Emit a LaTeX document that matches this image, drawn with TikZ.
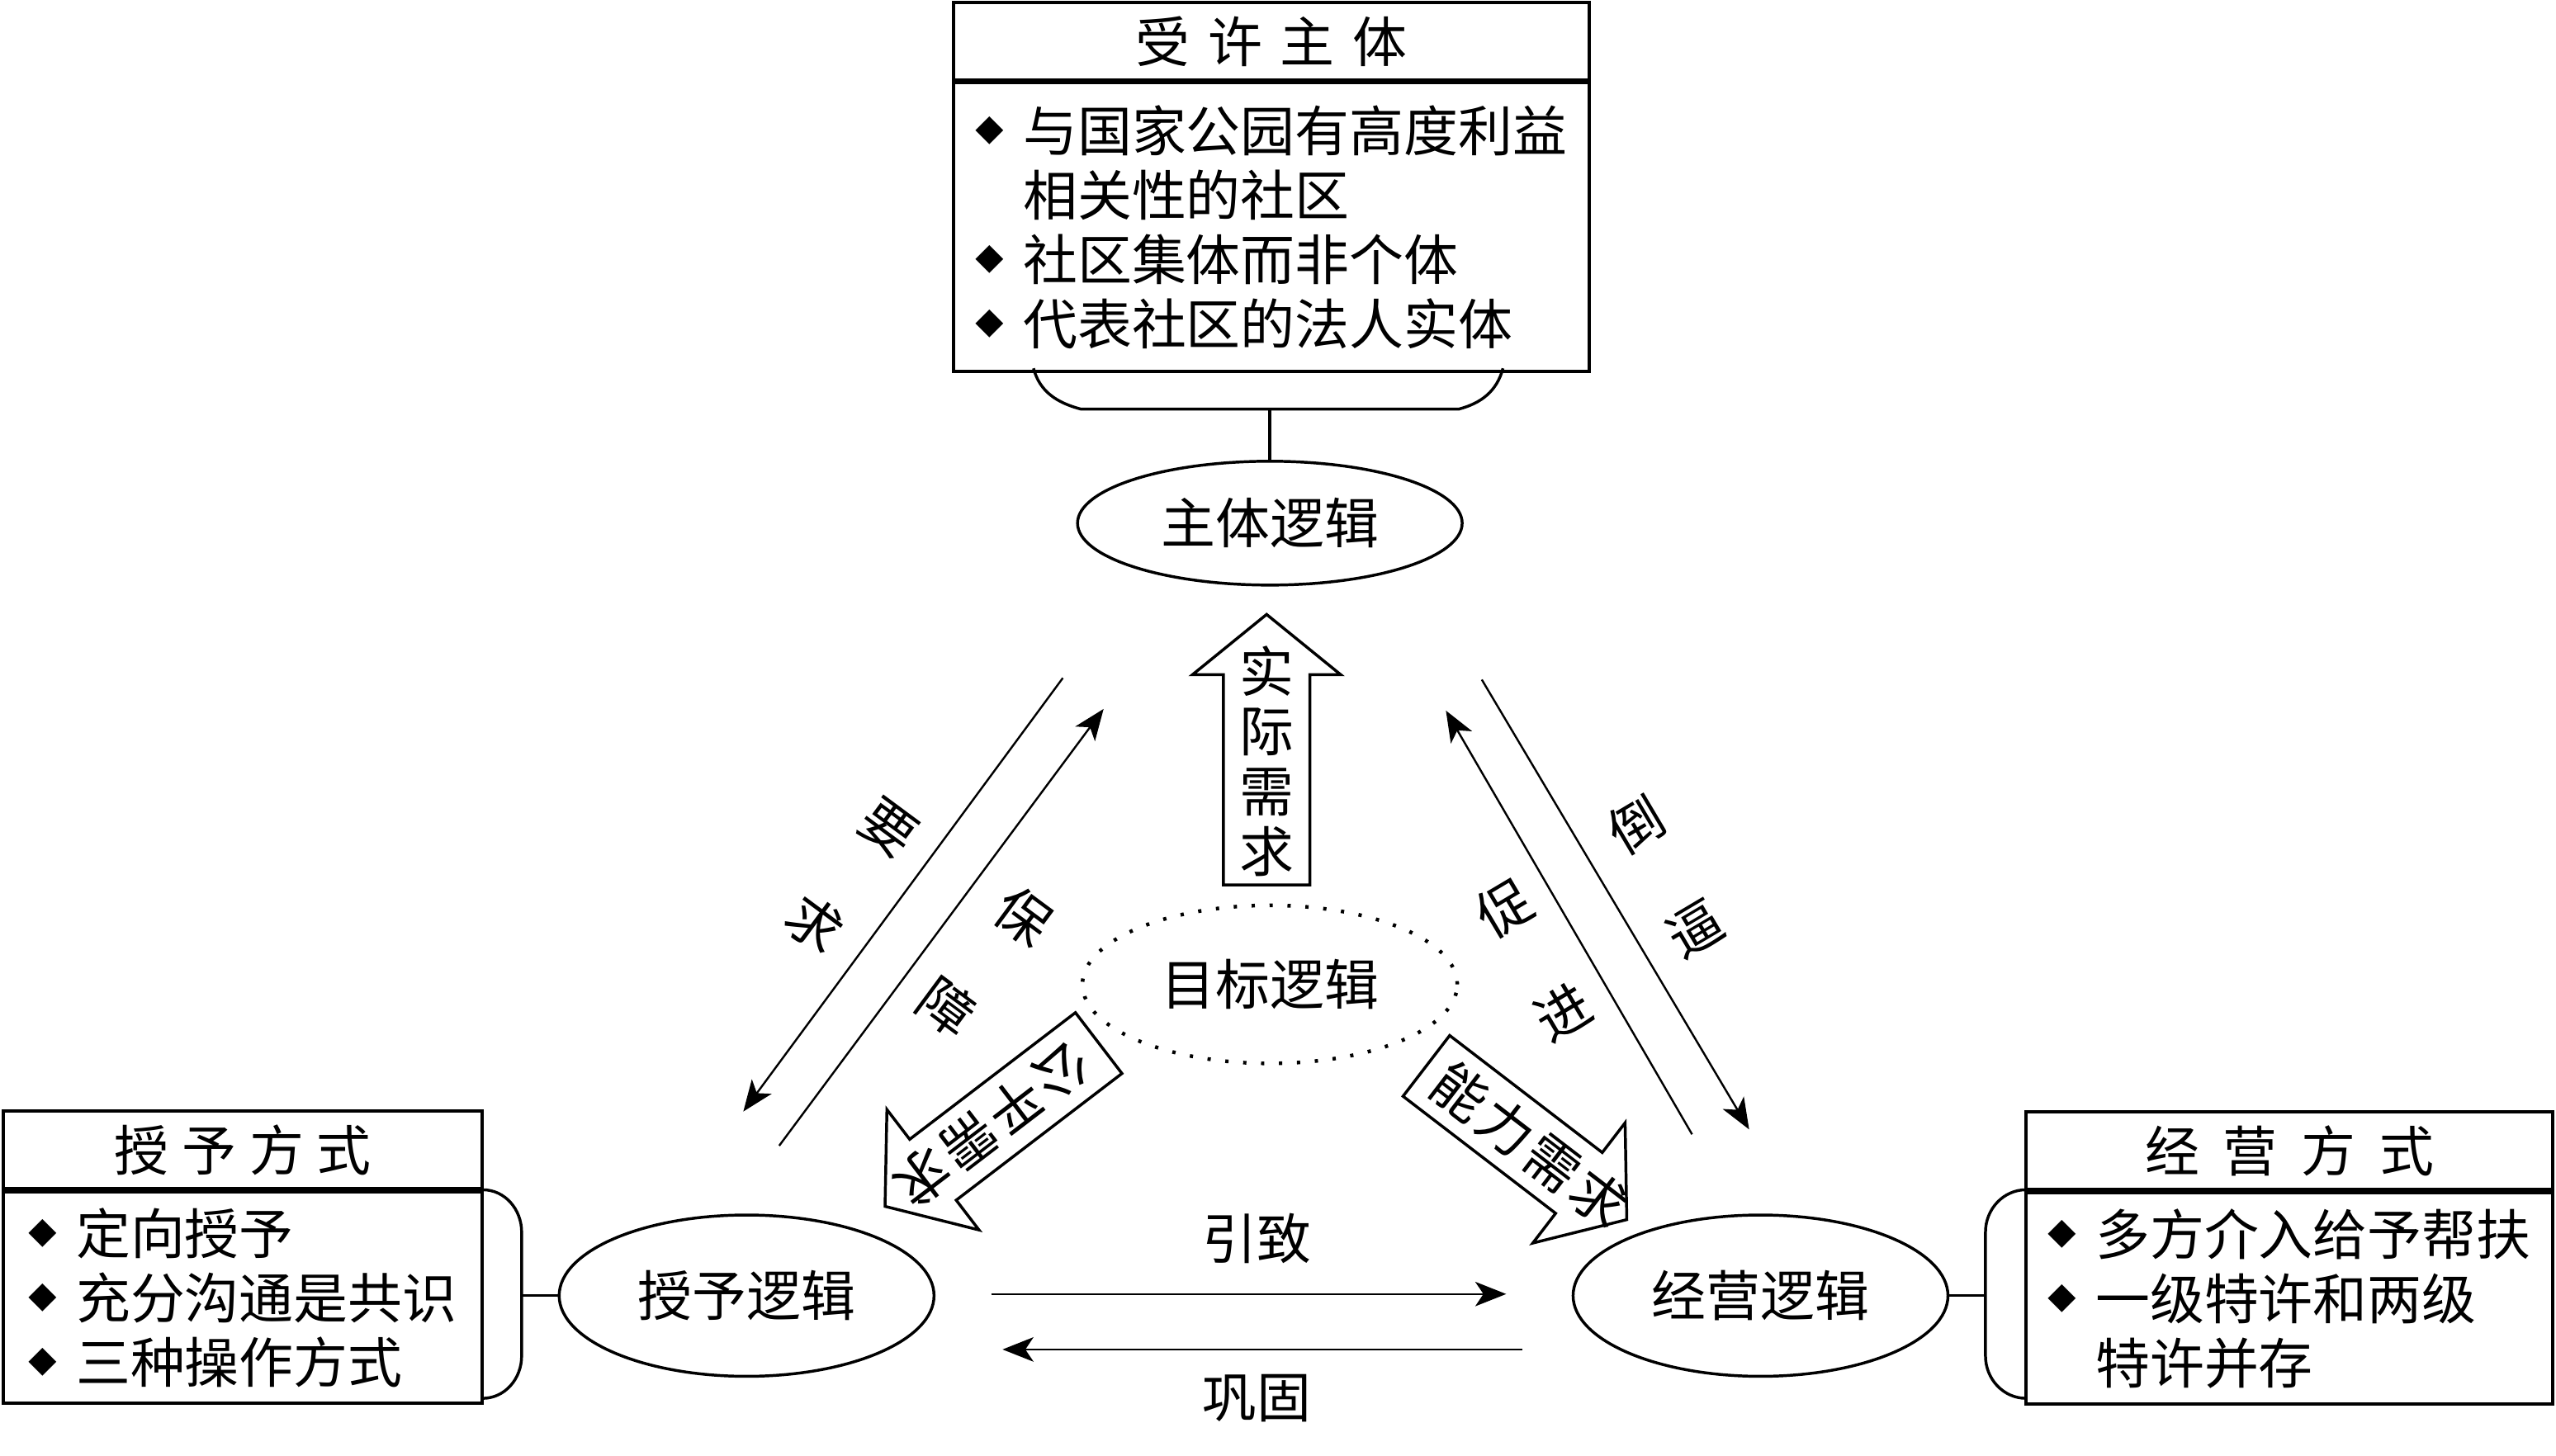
\documentclass[tikz,border=0pt]{standalone}
\usepackage{fontspec}
\setmainfont{Noto Sans CJK SC}
\usetikzlibrary{arrows.meta}
\usetikzlibrary{shapes.geometric}
\usetikzlibrary{positioning}
\newcommand{\dia}{\makebox[0.58cm][l]{\raisebox{3.4pt}{\fontsize{10}{10}\selectfont ◆}}}
\newcommand{\nodia}{\hspace*{0.58cm}}

\begin{document}
\begin{tikzpicture}[x=0.02cm,y=-0.02cm,font=\fontsize{19}{22.5}\selectfont,line width=1pt,
	logic/.style={ellipse,draw,minimum width=4.6cm,minimum height=1.98cm,inner sep=0pt},
	head/.style={draw,line width=1.1pt,minimum height=0.95cm,inner sep=0pt},
	body/.style={draw,line width=1.1pt,align=left,minimum height=2.6cm,inner sep=0pt},
	link/.style={line width=0.7pt,-{Stealth[length=0.38cm,width=0.3cm,inset=0.1cm]}}]
		\useasboundingbox (0,0) rectangle (1568,893);
		\node[head,minimum width=7.8cm] (lichd) at (780,25.25) {受\hspace{0.22cm}许\hspace{0.22cm}主\hspace{0.22cm}体};
		\node[body,minimum width=7.8cm,minimum height=3.54cm,below=0pt of lichd] (licbd) {\dia 与国家公园有高度利益\\ \nodia 相关性的社区\\ \dia 社区集体而非个体\\ \dia 代表社区的法人实体};
		\node[head,minimum width=5.88cm] (granthd) at (149,705.5) {授\hspace{0.16cm}予\hspace{0.16cm}方\hspace{0.16cm}式};
		\node[body,minimum width=5.88cm,below=0pt of granthd] (grantbd) {\dia 定向授予\\ \dia 充分沟通是共识\\ \dia 三种操作方式};
		\node[head,minimum width=6.46cm] (operhd) at (1404.5,706) {经\hspace{0.29cm}营\hspace{0.29cm}方\hspace{0.29cm}式};
		\node[body,minimum width=6.46cm,below=0pt of operhd] (operbd) {\dia 多方介入给予帮扶\\ \dia 一级特许和两级\\ \nodia 特许并存};
		\draw (634,226) to[out=-75,in=165] (663,251) -- (895,251) to[out=15,in=-105] (922,226);
		\draw (296,730) to[out=0,in=90] (320,756) -- (320,832) to[out=-90,in=0] (296,858);
		\draw (1243,730) to[out=180,in=90] (1218,756) -- (1218,832) to[out=-90,in=180] (1243,858);
		\node[logic,minimum width=4.72cm,minimum height=1.52cm] (subj) at (779,321) {主体逻辑};
		\node[logic] (grant) at (458,795) {授予逻辑};
		\node[logic] (oper) at (1080,795) {经营逻辑};
		\node[ellipse,draw,line width=0.045cm,dash pattern=on 0.04cm off 0.18cm,minimum width=4.6cm,minimum height=1.94cm,inner sep=0pt] (goal) at (779,604) {目标逻辑};
		\coordinate (tbk) at (779,251);
		\coordinate (lbk) at (320,795);
		\coordinate (rbk) at (1218,795);
		\draw (tbk) -- (subj);
		\draw (lbk) -- (grant);
		\draw (rbk) -- (oper);
		\begin{scope}[shift={(777,543)},rotate=90]
			\draw (0,-26.5) -- (129,-26.5) -- (129,-45.5) -- (166,0) -- (129,45.5) -- (129,26.5) -- (0,26.5) -- cycle;
			\node[align=center,font=\fontsize{19}{21}\selectfont] (real) at (76,0) {实\\际\\需\\求};
		\end{scope}
		\begin{scope}[shift={(674,640)},rotate=217.4]
			\draw (0,-23.5) -- (128,-23.5) -- (128,-46.5) -- (165,0) -- (128,46.5) -- (128,23.5) -- (0,23.5) -- cycle;
			\node[rotate=217.4] (fair) at (82,0) {公\hspace{0.05cm}平\hspace{0.05cm}需\hspace{0.05cm}求};
		\end{scope}
		\begin{scope}[shift={(875,654)},rotate=-37.5]
			\draw (0,-23.5) -- (118,-23.5) -- (118,-46.5) -- (155,0) -- (118,46.5) -- (118,23.5) -- (0,23.5) -- cycle;
			\node[rotate=-37.5] (abil) at (80,0) {能\hspace{0.05cm}力\hspace{0.05cm}需\hspace{0.05cm}求};
		\end{scope}
		\coordinate (ra) at (652,416);
		\coordinate (rb) at (456,682);
		\coordinate (ga) at (478,703);
		\coordinate (gb) at (677,435);
		\coordinate (pa) at (1038,696);
		\coordinate (pb) at (887,436);
		\coordinate (fa) at (909,417);
		\coordinate (fb) at (1073,693);
		\coordinate (ca) at (608,794);
		\coordinate (cb) at (924,794);
		\coordinate (da) at (934,828);
		\coordinate (db) at (615,828);
		\draw[link] (ra) -- (rb);
		\draw[link] (ga) -- (gb);
		\draw[link] (pa) -- (pb);
		\draw[link] (fa) -- (fb);
		\draw[link] (ca) -- (cb);
		\draw[link] (da) -- (db);
		\node[rotate=-36.5] (yao) at (545,508) {要};
		\node[rotate=-36.5] (qiu) at (500,567) {求};
		\node[rotate=-36.5] (bao) at (628,562) {保};
		\node[rotate=-36.5] (zhang) at (581,618) {障};
		\node[rotate=30.7] (dao) at (1004,506) {倒};
		\node[rotate=30.7] (bi) at (1040,570) {逼};
		\node[rotate=30.7] (cu) at (923,557) {促};
		\node[rotate=30.7] (jin) at (959,621) {进};
		\node (yz) at (771,760) {引致};
		\node (gg) at (771,858) {巩固};
	\end{tikzpicture}
\end{document}
